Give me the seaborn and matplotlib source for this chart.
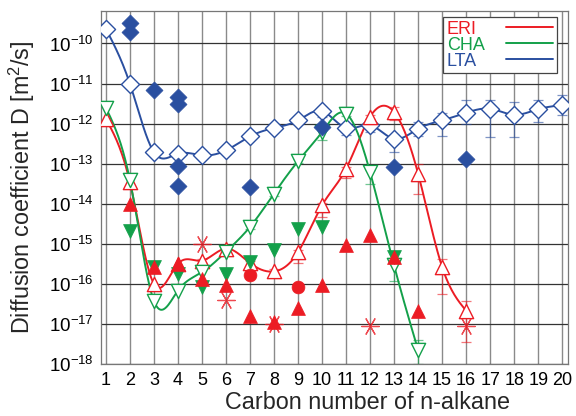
import numpy as np
import pandas as pd
import matplotlib
matplotlib.use("Agg")
import matplotlib.pyplot as plt
import seaborn as sns
from matplotlib.lines import Line2D

# ---------------- data (log10 of D in m^2/s) ----------------
carbon_ticks = list(range(1, 21))

lta_n = list(range(1, 21))
lta_log = [-9.63, -11.00, -12.71, -12.75, -12.79, -12.67, -12.32, -12.11, -11.92, -11.69,
           -12.11, -12.04, -12.38, -12.13, -11.92, -11.73, -11.63, -11.78, -11.64, -11.54]
lta_err_lo = [0, 0, 0, 0, 0, 0, 0, 0, 0.05, 0.15, 0.18, 0.17, 0.33, 0.17, 0.38, 0.28, 0.71, 0.56, 0.32, 0.25]
lta_err_hi = [0, 0, 0, 0, 0, 0, 0, 0, 0.05, 0.10, 0.10, 0.10, 0.10, 0.17, 0.18, 0.33, 0.21, 0.32, 0.23, 0.25]

lta_other_n = [2, 2, 3, 4, 4, 4, 4, 7, 10, 13, 16]
lta_other_log = [-9.49, -9.71, -11.17, -11.33, -11.50, -13.06, -13.56, -13.58, -12.08, -13.08, -12.88]

eri_n = list(range(1, 17))
eri_log = [-11.88, -13.46, -16.00, -15.50, -15.42, -15.12, -15.48, -15.69, -15.21, -14.04,
           -13.13, -11.83, -11.71, -13.25, -15.58, -16.67]
eri_err_lo = [0, 0, 0, 0, 0.05, 0.05, 0.10, 0.10, 0.28, 0.30, 0.23, 0.05, 0.20, 0.50, 0.67, 0.10]
eri_err_hi = [0, 0, 0, 0, 0.05, 0.05, 0.05, 0.05, 0.05, 0.05, 0.05, 0.05, 0.13, 0.25, 0.21, 0.25]

eri_tri_n = [2, 3, 4, 5, 6, 7, 8, 9, 10, 11, 12, 13, 14]
eri_tri_log = [-14.00, -15.57, -15.50, -15.88, -16.04, -16.79, -16.96, -16.59, -16.03, -15.04, -14.79, -15.33, -16.68]
eri_circ_n = [7, 9]
eri_circ_log = [-15.79, -16.07]
eri_star_n = [5, 6, 8, 12, 16]
eri_star_log = [-15.00, -16.40, -17.00, -17.04, -17.04]
eri_star_err_lo = [0, 0, 0, 0, 0.42]
eri_star_err_hi = [0, 0, 0, 0, 0.25]

cha_n = list(range(1, 15))
cha_log = [-11.60, -13.40, -16.42, -16.17, -15.71, -15.20, -14.58, -13.75, -12.94, -12.21,
           -11.75, -13.21, -15.54, -17.65]
cha_err_lo = [0, 0, 0, 0, 0, 0, 0.05, 0.05, 0.05, 0.20, 0.05, 0.30, 0.40, 0.35]
cha_err_hi = [0, 0, 0, 0, 0, 0, 0.05, 0.05, 0.05, 0.05, 0.17, 0.05, 0.05, 0.25]

cha_tri_n = [2, 3, 4, 5, 6, 7, 8, 9, 10, 13]
cha_tri_log = [-14.68, -15.58, -15.75, -16.08, -15.75, -15.46, -15.15, -14.63, -14.58, -15.33]

series_names = ["ERI", "CHA", "LTA"]
RED, GREEN, BLUE = "#ec1c24", "#13a04a", "#2a4fa0"

# ---------------- style ----------------
sns.set_style("white")
plt.rcParams["font.family"] = ["Liberation Sans", "DejaVu Sans"]
plt.rcParams["mathtext.fontset"] = "custom"
plt.rcParams["mathtext.rm"] = "Liberation Sans"
plt.rcParams["mathtext.it"] = "Liberation Sans:italic"
plt.rcParams["mathtext.bf"] = "Liberation Sans:bold"

fig = plt.figure(figsize=(5.76, 4.16), dpi=100)
ax = fig.add_axes([101 / 576, 1 - 364 / 416, 467 / 576, 353 / 416])


def nat_spline(x, y, xs):
    x = np.asarray(x, float)
    y = np.asarray(y, float)
    n = len(x)
    h = np.diff(x)
    A = np.zeros((n, n))
    r = np.zeros(n)
    A[0, 0] = A[-1, -1] = 1
    for i in range(1, n - 1):
        A[i, i - 1] = h[i - 1]
        A[i, i] = 2 * (h[i - 1] + h[i])
        A[i, i + 1] = h[i]
        r[i] = 6 * ((y[i + 1] - y[i]) / h[i] - (y[i] - y[i - 1]) / h[i - 1])
    M = np.linalg.solve(A, r)
    idx = np.clip(np.searchsorted(x, xs) - 1, 0, n - 2)
    x0, x1 = x[idx], x[idx + 1]
    hh = x1 - x0
    a = (x1 - xs) / hh
    b = (xs - x0) / hh
    return (a * y[idx] + b * y[idx + 1]
            + ((a ** 3 - a) * M[idx] + (b ** 3 - b) * M[idx + 1]) * hh ** 2 / 6)


def curve(n, logv, color):
    xs = np.linspace(min(n), max(n), 400)
    ys = 10 ** nat_spline(n, logv, xs)
    sns.lineplot(x=xs, y=ys, color=color, lw=1.4, ax=ax, zorder=3, sort=False)


def errbars(n, logv, lo, hi, color):
    v = 10 ** np.asarray(logv)
    lo_v = v - 10 ** (np.asarray(logv) - np.asarray(lo))
    hi_v = 10 ** (np.asarray(logv) + np.asarray(hi)) - v
    mask = (np.asarray(lo) > 0) | (np.asarray(hi) > 0)
    ax.errorbar(np.asarray(n)[mask], v[mask], yerr=[lo_v[mask], hi_v[mask]], fmt="none",
                ecolor=color, elinewidth=0.9, capsize=3.5, capthick=0.9, alpha=0.6, zorder=2)


# error bars
errbars(lta_n, lta_log, lta_err_lo, lta_err_hi, BLUE)
errbars(eri_n, eri_log, eri_err_lo, eri_err_hi, RED)
errbars(cha_n, cha_log, cha_err_lo, cha_err_hi, GREEN)
errbars(eri_star_n, eri_star_log, eri_star_err_lo, eri_star_err_hi, RED)

# smooth curves
curve(lta_n, lta_log, BLUE)
curve(eri_n, eri_log, RED)
curve(cha_n, cha_log, GREEN)


def pts(n, logv):
    return pd.DataFrame({"n": n, "D": 10 ** np.asarray(logv)})


# open markers on curves
sns.scatterplot(data=pts(lta_n, lta_log), x="n", y="D", marker="D", s=85,
                facecolor="white", edgecolor=BLUE, linewidth=1.0, ax=ax, zorder=4)
sns.scatterplot(data=pts(eri_n, eri_log), x="n", y="D", marker="^", s=105,
                facecolor="white", edgecolor=RED, linewidth=1.0, ax=ax, zorder=4)
sns.scatterplot(data=pts(cha_n, cha_log), x="n", y="D", marker="v", s=105,
                facecolor="white", edgecolor=GREEN, linewidth=1.0, ax=ax, zorder=4)

# filled markers (other data)
sns.scatterplot(data=pts(lta_other_n, lta_other_log), x="n", y="D", marker="D", s=75,
                color=BLUE, edgecolor=BLUE, linewidth=0.5, ax=ax, zorder=5)
sns.scatterplot(data=pts(cha_tri_n, cha_tri_log), x="n", y="D", marker="v", s=100,
                color=GREEN, edgecolor=GREEN, linewidth=0.5, ax=ax, zorder=5)
sns.scatterplot(data=pts(eri_tri_n, eri_tri_log), x="n", y="D", marker="^", s=100,
                color=RED, edgecolor=RED, linewidth=0.5, ax=ax, zorder=6)
sns.scatterplot(data=pts(eri_circ_n, eri_circ_log), x="n", y="D", marker="o", s=85,
                color=RED, edgecolor=RED, linewidth=0.5, ax=ax, zorder=6)
ax.scatter(eri_star_n, 10 ** np.asarray(eri_star_log), marker=(6, 2, 90), s=160,
           color=RED, linewidths=0.9, alpha=0.8, zorder=6)

# axes
ax.set_yscale("log")
ax.set_xlim(0.8, 20.24)
ax.set_ylim(1e-18, 10 ** -9.19)
ax.set_xticks(carbon_ticks)
ax.set_xticklabels([str(c) for c in carbon_ticks])
ax.set_yticks([10.0 ** e for e in range(-18, -9)])
ax.yaxis.set_minor_locator(matplotlib.ticker.NullLocator())
ax.tick_params(axis="both", length=0, labelsize=13, colors="black")
ax.tick_params(axis="x", pad=6)
ax.tick_params(axis="y", labelsize=13.5, pad=5)
ax.grid(False)
for xv in carbon_ticks:
    ax.axvline(xv, color="#8a8a8a", lw=1.0, zorder=0)
for e in range(-18, -9):
    ax.axhline(10.0 ** e, color="#333333", lw=0.9, zorder=0)
for sp in ax.spines.values():
    sp.set_color("#777777")
    sp.set_linewidth(0.9)

ax.set_xlabel("Carbon number of n-alkane", fontsize=16.8)
ax.set_ylabel("Diffusion coefficient D [m$^2$/s]", fontsize=16.8)
ax.xaxis.set_label_coords(0.57, -0.076)
ax.yaxis.set_label_coords(-0.136, 0.5)

handles = [Line2D([], [], color=c, lw=1.4) for c in (RED, GREEN, BLUE)]
leg = ax.legend(handles, series_names, loc="upper right", bbox_to_anchor=(0.976, 0.983),
                markerfirst=False, fontsize=13, handlelength=2.6, handletextpad=1.2,
                labelspacing=-0.05, borderpad=0.2, borderaxespad=0, fancybox=False,
                framealpha=1, edgecolor="#444444")
leg.get_frame().set_linewidth(0.9)
for t, c in zip(leg.get_texts(), (RED, GREEN, BLUE)):
    t.set_color(c)
leg.set_zorder(10)

# left-align the legend labels while keeping the line samples aligned on the right
renderer = fig.canvas.get_renderer()
widths = [t.get_window_extent(renderer).width for t in leg.get_texts()]
maxw = max(widths)
rows = [row for col in leg._legend_handle_box.get_children() for row in col.get_children()]
for row, w in zip(rows, widths):
    row.sep = row.sep + (maxw - w) * 72.0 / fig.dpi

fig.savefig("out.png", dpi=100)
